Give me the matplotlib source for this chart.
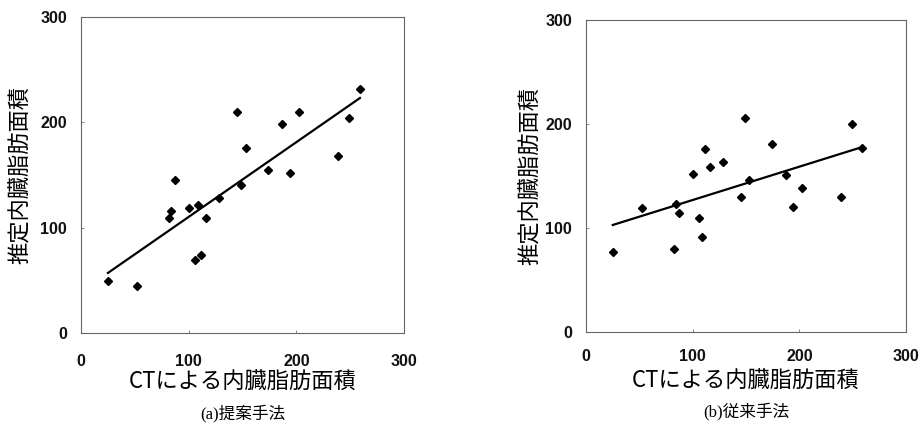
import matplotlib
matplotlib.use("Agg")
import matplotlib.pyplot as plt

# CT-measured visceral fat area (shared x values)
ct_area = [25, 52, 82, 84, 87, 100, 106, 109, 111, 116, 128, 145, 149, 153,
           174, 187, 194, 202, 239, 249, 259]
# (a) proposed method estimates
est_a = [49, 45, 109, 116, 145, 119, 69, 121, 74, 109, 128, 210, 140, 176,
         155, 198, 152, 210, 168, 204, 232]
# (b) conventional method estimates
est_b = [77, 119, 80, 123, 115, 152, 110, 91, 176, 159, 164, 130, 206, 146,
         181, 151, 120, 139, 130, 200, 177]
# regression line end points
fit_x = [25, 259]
fit_a = [57, 223]
fit_b = [103, 178]

ticks = [0, 100, 200, 300]
ylabel = "推定内臓脂肪面積"
xlabel = "CTによる内臓脂肪面積"
captions = ["(a)提案手法", "(b)従来手法"]

cjk = ["Noto Sans CJK JP", "DejaVu Sans"]
cap_font = ["Liberation Serif", "Noto Sans CJK JP", "DejaVu Sans"]
num_font = ["Liberation Sans", "DejaVu Sans"]

fig = plt.figure(figsize=(9.23, 4.33), dpi=100)
ax_a = fig.add_axes([0.0878, 0.231, 0.350, 0.730])
ax_b = fig.add_axes([0.635, 0.233, 0.3467, 0.7206])

for ax, est, fit, cap, ylx, xpad in [(ax_a, est_a, fit_a, captions[0], -0.152, 15),
                                     (ax_b, est_b, fit_b, captions[1], -0.1375, 12.5)]:
    ax.plot(ct_area, est, linestyle="none", marker="D", markersize=4.5,
            color="black")
    ax.plot(fit_x, fit, color="black", linewidth=1.6)
    ax.set_xlim(0, 300)
    ax.set_ylim(0, 300)
    ax.set_xticks(ticks)
    ax.set_yticks(ticks)
    ax.tick_params(direction="in", length=2, width=0.6, color="#777777",
                   labelsize=11.5)
    ax.tick_params(axis="y", pad=10)
    ax.tick_params(axis="x", pad=xpad)
    for lab in ax.get_xticklabels() + ax.get_yticklabels():
        lab.set_family(num_font)
        lab.set_fontweight("bold")
        lab.set_color("#111111")
    for sp in ax.spines.values():
        sp.set_color("#666666")
        sp.set_linewidth(0.8)
    ax.set_ylabel(ylabel, fontsize=16, family=cjk)
    ax.yaxis.set_label_coords(ylx, 0.5)
    ax.set_xlabel(xlabel, fontsize=16, family=cjk)
    ax.xaxis.set_label_coords(0.5, -0.12)
    ax.text(0.5, -0.255, cap, transform=ax.transAxes, ha="center",
            va="center", fontsize=12, family=cap_font)

fig.savefig("out.png", dpi=100)
